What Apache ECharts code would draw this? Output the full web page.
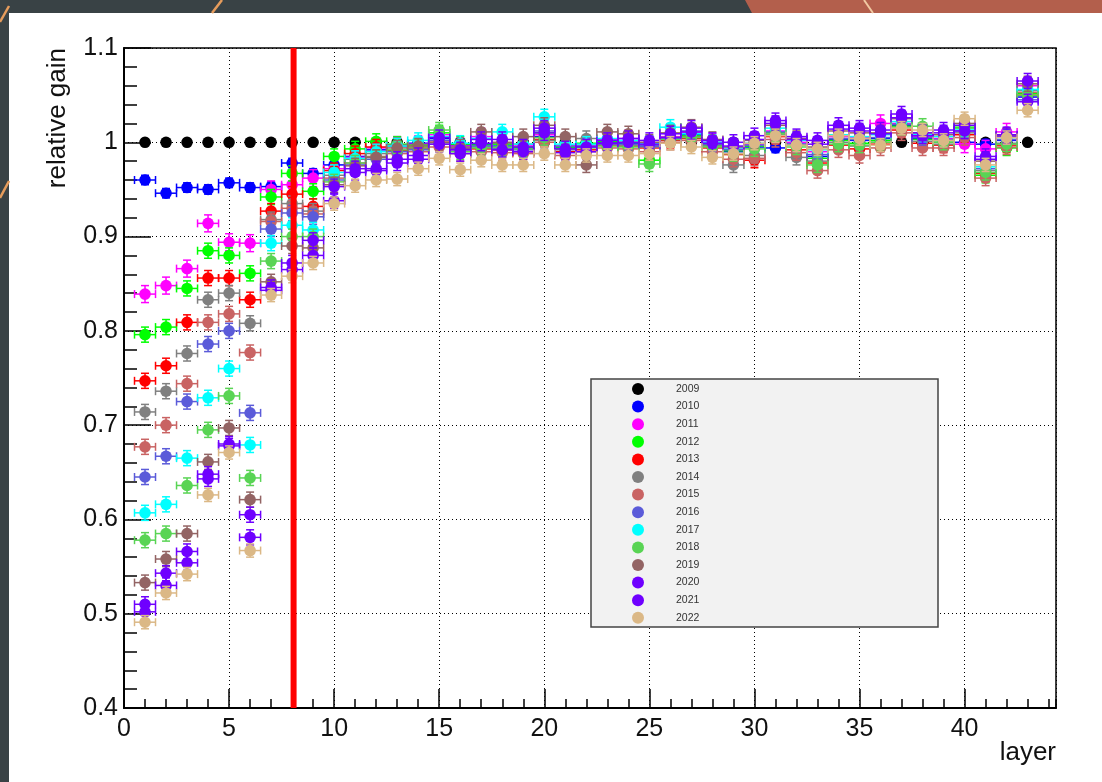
<!DOCTYPE html>
<html>
<head>
<meta charset="utf-8">
<script src="https://cdn.jsdelivr.net/npm/echarts@6/dist/echarts.min.js"></script>
<style>
  html, body { margin: 0; padding: 0; background: #394245; }
  #chart { width: 1102px; height: 782px; }
</style>
</head>
<body>
<div id="chart"></div>
<script>
// layers 1..43, one gain value per layer and year
const layers = [1, 2, 3, 4, 5, 6, 7, 8, 9, 10, 11, 12, 13, 14, 15, 16, 17, 18, 19, 20,
  21, 22, 23, 24, 25, 26, 27, 28, 29, 30, 31, 32, 33, 34, 35, 36, 37, 38, 39, 40, 41, 42, 43]

const years = ['2009', '2010', '2011', '2012', '2013', '2014', '2015', '2016', '2017', '2018', '2019', '2020', '2021', '2022']
const colors = ['#000000', '#0000ff', '#ff00ff', '#00ff00', '#ff0000', '#808080', '#c96363', '#5b5bd9',
  '#00ffff', '#59d454', '#936464', '#6f00ff', '#6f00ff', '#dbb886']
const yErr = [0, 0.005, 0.009, 0.008, 0.008, 0.008, 0.008, 0.008, 0.008, 0.008, 0.008, 0.008, 0.008, 0.007]
const xErr = [0, 0.5, 0.5, 0.5, 0.5, 0.5, 0.5, 0.5, 0.5, 0.5, 0.5, 0.5, 0.5, 0.5]

const g2009 = [1, 1, 1, 1, 1, 1, 1, 1, 1, 1,
  1, 1, 1, 1, 1, 1, 1, 1, 1, 1,
  1, 1, 1, 1, 1, 1, 1, 1, 1, 1,
  1, 1, 1, 1, 1, 1, 1, 1, 1, 1,
  1, 1, 1]
const g2010 = [0.960, 0.946, 0.952, 0.950, 0.957, 0.952, 0.953, 0.978, 0.967, 0.976,
  0.985, 0.992, 0.996, 0.999, 1.004, 0.997, 0.998, 0.996, 0.994, 1.006,
  0.994, 0.995, 1.000, 0.999, 0.996, 1.004, 1.008, 0.998, 0.990, 0.995,
  0.994, 0.998, 0.985, 1.003, 1.002, 1.004, 1.018, 1.004, 1.002, 1.000,
  0.998, 1.002, 1.048]
const g2011 = [0.839, 0.848, 0.866, 0.914, 0.894, 0.893, 0.950, 0.955, 0.962, 0.972,
  0.984, 0.994, 0.997, 0.998, 1.008, 0.996, 1.006, 0.999, 0.997, 1.008,
  0.996, 0.997, 1.003, 1.004, 0.998, 1.006, 1.010, 1.000, 0.993, 0.998,
  1.012, 1.000, 0.990, 1.006, 1.005, 1.020, 1.020, 1.006, 1.004, 0.998,
  0.993, 1.011, 1.060]
const g2012 = [0.796, 0.804, 0.845, 0.885, 0.880, 0.861, 0.942, 0.967, 0.948, 0.985,
  0.993, 1.001, 0.998, 0.997, 1.010, 0.998, 0.997, 0.998, 0.995, 1.010,
  0.995, 0.999, 1.001, 1.000, 0.981, 1.005, 1.007, 0.997, 0.991, 0.996,
  1.010, 0.997, 0.983, 1.002, 0.999, 1.002, 1.017, 1.003, 1.000, 1.016,
  0.965, 0.994, 1.052]
const g2013 = [0.747, 0.763, 0.809, 0.856, 0.856, 0.833, 0.927, 0.945, 0.932, 0.970,
  0.988, 0.995, 0.991, 0.994, 1.000, 0.993, 0.993, 0.992, 0.990, 1.003,
  0.990, 0.992, 0.997, 0.996, 0.994, 1.002, 1.004, 0.994, 0.987, 0.981,
  1.006, 0.992, 0.978, 0.997, 0.993, 0.998, 1.013, 0.999, 0.997, 1.008,
  0.967, 0.997, 1.050]
const g2014 = [0.714, 0.736, 0.776, 0.833, 0.840, 0.808, 0.918, 0.935, 0.927, 0.965,
  0.982, 0.988, 0.997, 0.993, 0.998, 0.992, 0.995, 0.994, 0.998, 1.002,
  0.992, 1.004, 0.999, 0.997, 0.995, 1.003, 1.006, 0.996, 0.976, 0.986,
  1.008, 0.984, 0.980, 1.000, 0.996, 1.000, 1.015, 1.001, 0.998, 1.010,
  0.970, 0.999, 1.055]
const g2015 = [0.677, 0.700, 0.744, 0.809, 0.818, 0.777, 0.916, 0.930, 0.924, 0.962,
  0.978, 0.985, 0.988, 0.990, 0.995, 0.988, 0.990, 0.989, 0.988, 1.000,
  0.986, 0.990, 0.994, 0.993, 0.990, 1.000, 1.002, 0.990, 0.982, 0.983,
  1.003, 0.989, 0.970, 0.992, 0.986, 0.994, 1.010, 0.994, 0.994, 1.005,
  0.962, 0.995, 1.053]
const g2016 = [0.645, 0.667, 0.725, 0.786, 0.800, 0.713, 0.908, 0.925, 0.921, 0.960,
  0.976, 0.982, 0.990, 0.992, 1.002, 0.994, 0.996, 0.993, 0.992, 1.012,
  0.996, 0.996, 0.998, 0.998, 0.996, 1.004, 1.012, 0.998, 0.992, 0.997,
  1.011, 0.998, 0.987, 1.004, 1.003, 1.005, 1.019, 1.005, 1.003, 1.012,
  0.972, 1.003, 1.045]
const g2017 = [0.607, 0.616, 0.665, 0.729, 0.760, 0.679, 0.893, 0.912, 0.907, 0.968,
  0.983, 0.990, 0.996, 1.002, 1.006, 0.999, 1.004, 1.011, 0.998, 1.027,
  0.998, 0.998, 1.004, 1.002, 0.999, 1.016, 1.009, 1.000, 0.994, 0.999,
  1.015, 1.002, 0.992, 1.008, 1.006, 1.008, 1.022, 1.008, 1.006, 1.014,
  0.974, 1.005, 1.056]
const g2018 = [0.578, 0.585, 0.636, 0.695, 0.731, 0.644, 0.874, 0.900, 0.900, 0.958,
  0.978, 0.984, 0.992, 0.995, 1.013, 0.990, 0.994, 0.995, 0.993, 1.005,
  0.993, 0.994, 0.996, 0.995, 0.977, 1.003, 1.005, 0.995, 0.988, 0.993,
  1.009, 0.995, 0.976, 0.998, 0.997, 1.000, 1.016, 1.017, 1.000, 1.015,
  0.968, 0.998, 1.050]
const g2019 = [0.533, 0.558, 0.585, 0.661, 0.697, 0.621, 0.852, 0.890, 0.888, 0.955,
  0.975, 0.984, 0.994, 0.996, 1.000, 0.995, 1.011, 1.000, 1.006, 1.018,
  1.006, 0.976, 1.011, 1.009, 1.000, 1.010, 1.016, 1.003, 0.995, 1.002,
  1.018, 1.004, 0.995, 1.012, 1.010, 1.010, 1.025, 1.010, 1.008, 1.020,
  0.980, 1.007, 1.062]
const g2020 = [0.510, 0.543, 0.566, 0.648, 0.680, 0.605, 0.846, 0.872, 0.896, 0.953,
  0.972, 0.972, 0.982, 0.986, 1.005, 0.992, 1.003, 1.003, 0.995, 1.015,
  0.993, 0.995, 1.002, 1.004, 1.002, 1.009, 1.015, 1.002, 1.000, 1.007,
  1.023, 1.006, 1.002, 1.018, 1.015, 1.013, 1.030, 1.010, 1.013, 1.018,
  0.985, 1.008, 1.065]
const g2021 = [0.502, 0.530, 0.554, 0.643, 0.678, 0.581, 0.843, 0.865, 0.880, 0.938,
  0.968, 0.970, 0.978, 0.982, 0.998, 0.988, 0.999, 0.992, 0.990, 1.010,
  0.989, 0.990, 0.999, 1.000, 0.998, 1.005, 1.011, 0.999, 0.996, 1.003,
  1.020, 1.003, 0.998, 1.014, 1.012, 1.009, 1.026, 1.007, 1.010, 1.012,
  0.982, 1.006, 1.043]
const g2022 = [0.491, 0.522, 0.542, 0.626, 0.671, 0.567, 0.838, 0.858, 0.872, 0.935,
  0.954, 0.960, 0.961, 0.972, 0.983, 0.971, 0.981, 0.976, 0.976, 0.988,
  0.976, 0.986, 0.986, 0.986, 0.988, 0.999, 0.995, 0.984, 0.988, 0.999,
  1.007, 0.997, 0.993, 1.007, 1.004, 0.997, 1.015, 1.013, 1.002, 1.025,
  0.976, 1.005, 1.034]

const gains = [g2009, g2010, g2011, g2012, g2013, g2014, g2015, g2016, g2017, g2018, g2019, g2020, g2021, g2022]

// red cut line and axis ranges
const cutLayer = 8.07
const xMax = 44.35
const yMin = 0.4
const yMax = 1.1

const FONT = '"Liberation Sans", Arial, Helvetica, sans-serif'

function errorMarker(color, ex, ey) {
  return function (params, api) {
    const x = api.value(0)
    const y = api.value(1)
    const c = api.coord([x, y])
    const ls = { stroke: color, lineWidth: 1.5 }
    const children = []
    if (ex > 0) {
      const l = api.coord([x - ex, y])
      const r = api.coord([x + ex, y])
      const t = api.coord([x, y + ey])
      const b = api.coord([x, y - ey])
      children.push(
        { type: 'line', shape: { x1: l[0], y1: l[1], x2: r[0], y2: r[1] }, style: ls },
        { type: 'line', shape: { x1: l[0], y1: l[1] - 4, x2: l[0], y2: l[1] + 4 }, style: ls },
        { type: 'line', shape: { x1: r[0], y1: r[1] - 4, x2: r[0], y2: r[1] + 4 }, style: ls },
        { type: 'line', shape: { x1: t[0], y1: t[1], x2: b[0], y2: b[1] }, style: ls },
        { type: 'line', shape: { x1: t[0] - 4, y1: t[1], x2: t[0] + 4, y2: t[1] }, style: ls },
        { type: 'line', shape: { x1: b[0] - 4, y1: b[1], x2: b[0] + 4, y2: b[1] }, style: ls }
      )
    }
    children.push({ type: 'circle', shape: { cx: c[0], cy: c[1], r: 5.8 }, style: { fill: color } })
    return { type: 'group', children }
  }
}

const series = years.map((year, i) => ({
  name: year,
  type: 'custom',
  xAxisIndex: 0,
  yAxisIndex: 0,
  itemStyle: { color: colors[i] },
  encode: { x: 0, y: 1 },
  data: layers.map((l, j) => [l, gains[i][j]]),
  renderItem: errorMarker(colors[i], xErr[i], yErr[i]),
  silent: true,
}))

series.push({
  type: 'line',
  xAxisIndex: 0,
  data: [[cutLayer, yMin], [cutLayer, yMax]],
  symbol: 'none',
  lineStyle: { color: '#ff0000', width: 6 },
  z: 5,
  silent: true,
})

const tickStyle = { color: '#000', width: 1.5 }
const gridLine = { show: true, lineStyle: { color: '#000', width: 1, type: [1, 3] } }

const chart = echarts.init(document.getElementById('chart'))
chart.setOption({
  backgroundColor: '#394245',
  animation: false,
  grid: { left: 124, right: 46, top: 48, bottom: 74, show: true, borderColor: '#000', borderWidth: 1.5 },
  xAxis: [
    {
      type: 'value', min: 0, max: xMax, interval: 5, position: 'bottom',
      axisLine: { lineStyle: { color: '#000', width: 2 } },
      axisTick: { inside: true, length: 19, lineStyle: tickStyle },
      axisLabel: { fontSize: 25, margin: 9, color: '#111', fontFamily: FONT, showMaxLabel: false },
      splitLine: gridLine,
    },
    {
      type: 'value', min: 0, max: xMax, interval: 1, position: 'bottom',
      axisLine: { show: false },
      axisTick: { inside: true, length: 9, lineStyle: tickStyle },
      axisLabel: { show: false },
      splitLine: { show: false },
    },
  ],
  yAxis: {
    type: 'value', min: yMin, max: yMax, interval: 0.1,
    axisLine: { show: true, lineStyle: { color: '#000', width: 2 } },
    axisTick: { inside: true, length: 27, lineStyle: tickStyle },
    minorTick: { show: true, splitNumber: 5, length: 13, lineStyle: tickStyle },
    axisLabel: { fontSize: 25, margin: 6, color: '#111', fontFamily: FONT },
    splitLine: gridLine,
  },
  legend: {
    orient: 'vertical',
    left: 627,
    top: 378,
    itemWidth: 12,
    itemHeight: 12,
    itemGap: 5.6,
    icon: 'circle',
    selectedMode: false,
    textStyle: { fontSize: 10.5, color: '#333', fontFamily: FONT, padding: [0, 0, 0, 27] },
    data: years,
  },
  graphic: [
    { type: 'rect', z: -100, shape: { x: 9, y: 13, width: 1093, height: 769 }, style: { fill: '#ffffff' } },
    { type: 'polygon', z: -99, shape: { points: [[745, 0], [1102, 0], [1102, 13], [752, 13]] }, style: { fill: '#b35f4c' } },
    { type: 'line', z: -98, shape: { x1: 864, y1: 0, x2: 873, y2: 13 }, style: { stroke: '#f1c9a2', lineWidth: 2 } },
    { type: 'line', z: -98, shape: { x1: 222, y1: 0, x2: 212, y2: 13 }, style: { stroke: '#e69c5c', lineWidth: 2.5 } },
    { type: 'line', z: -98, shape: { x1: 0, y1: 22, x2: 9, y2: 6 }, style: { stroke: '#e69c5c', lineWidth: 2.5 } },
    { type: 'line', z: -98, shape: { x1: 0, y1: 198, x2: 9, y2: 181 }, style: { stroke: '#e69c5c', lineWidth: 2.5 } },
    { type: 'rect', z: 3, shape: { x: 591, y: 379, width: 347, height: 248 }, style: { fill: '#f2f2f2', stroke: '#444', lineWidth: 1.5 } },
    {
      type: 'text', z: 3, x: 58, y: 48, rotation: Math.PI / 2,
      style: { text: 'relative gain', fontSize: 26, fontFamily: FONT, fill: '#111', align: 'right', verticalAlign: 'middle' },
    },
    {
      type: 'text', z: 3, x: 1056, y: 753,
      style: { text: 'layer', fontSize: 26, fontFamily: FONT, fill: '#111', align: 'right', verticalAlign: 'middle' },
    },
  ],
  series,
})
</script>
</body>
</html>
